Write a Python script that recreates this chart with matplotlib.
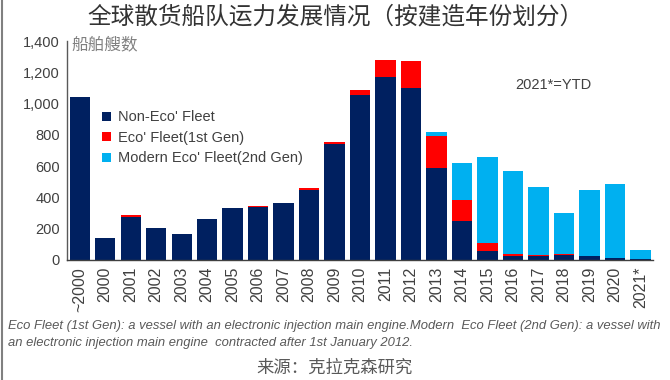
import numpy as np
import matplotlib
matplotlib.use("Agg")
import matplotlib.pyplot as plt
from matplotlib.lines import Line2D

plt.rcParams['font.family'] = ['Liberation Sans', 'Noto Sans CJK SC', 'DejaVu Sans']

years = ['~2000', '2000', '2001', '2002', '2003', '2004', '2005', '2006', '2007',
         '2008', '2009', '2010', '2011', '2012', '2013', '2014', '2015', '2016',
         '2017', '2018', '2019', '2020', '2021*']
non_eco = [1040, 140, 275, 205, 165, 263, 334, 340, 364, 447, 740, 1055, 1170,
           1100, 590, 252, 60, 22, 25, 30, 25, 15, 3]
eco_1st = [0, 0, 10, 0, 0, 0, 0, 8, 0, 10, 15, 35, 110, 170, 205, 130, 50, 14,
           5, 6, 0, 0, 0]
eco_2nd = [0, 0, 0, 0, 0, 0, 0, 0, 0, 0, 0, 0, 0, 0, 25, 240, 550, 533, 437,
           266, 422, 470, 60]

navy = '#002060'
red = '#FF0000'
cyan = '#00B0F0'
text_c = '#404040'

fig = plt.figure(figsize=(6.7, 3.8), dpi=100)
ax = fig.add_axes([0.10, 0.316, 0.875, 0.576])

x = np.arange(len(years))
non_eco = np.array(non_eco)
eco_1st = np.array(eco_1st)
eco_2nd = np.array(eco_2nd)
w = 0.8
ax.bar(x, non_eco, w, color=navy, label="Non-Eco' Fleet")
ax.bar(x, eco_1st, w, bottom=non_eco, color=red, label="Eco' Fleet(1st Gen)")
ax.bar(x, eco_2nd, w, bottom=non_eco + eco_1st, color=cyan,
       label="Modern Eco' Fleet(2nd Gen)")

ax.set_xlim(-0.5, len(years) - 0.5)
ax.set_ylim(0, 1400)
ax.set_yticks(np.arange(0, 1401, 200))
ax.set_yticklabels([f'{v:,}' for v in range(0, 1401, 200)])
ax.set_xticks(x)
ax.set_xticklabels(years, rotation=90)
ax.tick_params(axis='both', length=0, labelsize=10.5, colors=text_c, pad=5)
ax.tick_params(axis='x', labelsize=11.5)
for s in ['top', 'right']:
    ax.spines[s].set_visible(False)
ax.spines['left'].set_color('#595959')
ax.spines['bottom'].set_color('#404040')
ax.spines['left'].set_linewidth(1.0)
ax.spines['bottom'].set_linewidth(1.0)

ax.text(0.008, 0.985, '船舶艘数', transform=ax.transAxes, ha='left', va='center',
        fontsize=12, color='#808080', family=['Noto Sans CJK SC'])
ax.text(0.83, 0.80, '2021*=YTD', transform=ax.transAxes, ha='center', va='center',
        fontsize=10.5, color=text_c)

leg = ax.legend(loc='upper left', bbox_to_anchor=(0.05, 0.71), frameon=False,
                fontsize=10.5, handlelength=0.6, handleheight=0.6,
                handletextpad=0.5, labelspacing=0.45, borderaxespad=0)
for t in leg.get_texts():
    t.set_color(text_c)

fig.text(0.5, 0.955, '全球散货船队运力发展情况（按建造年份划分）', ha='center', va='center',
         fontsize=17, color='#333333', family=['Noto Sans CJK SC'])

fig.text(0.012, 0.142, 'Eco Fleet (1st Gen): a vessel with an electronic injection main engine.Modern  '
         'Eco Fleet (2nd Gen): a vessel with', ha='left', va='center',
         fontsize=9.4, style='italic', color='#595959')
fig.text(0.012, 0.098, 'an electronic injection main engine  contracted after 1st January 2012.',
         ha='left', va='center', fontsize=9.4, style='italic', color='#595959')

fig.text(0.5, 0.033, '来源：克拉克森研究', ha='center', va='center', fontsize=12.5,
         color='#595959', family=['Noto Sans CJK SC'])

fig.add_artist(Line2D([0.003, 0.003], [0, 1], transform=fig.transFigure,
                      color='#808080', linewidth=1.5))

fig.savefig('out.png', dpi=100)
